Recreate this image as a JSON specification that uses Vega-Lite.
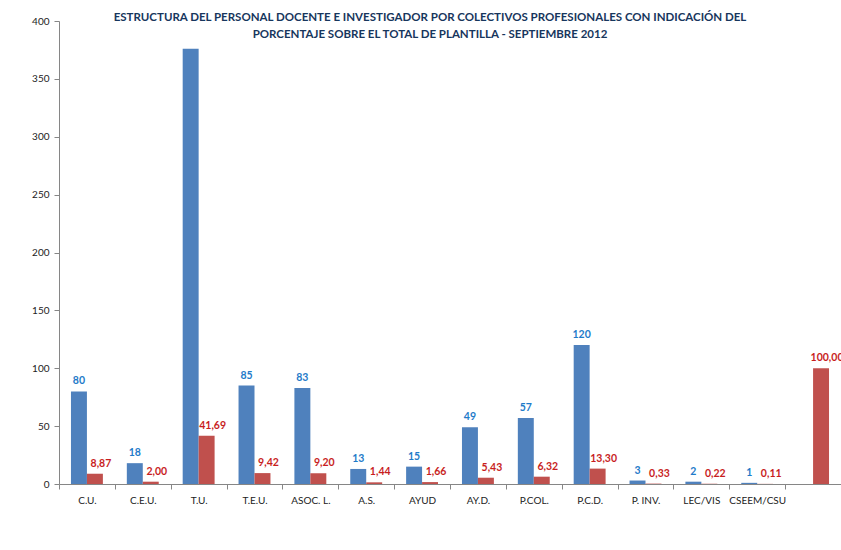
{
  "$schema": "https://vega.github.io/schema/vega-lite/v6.json",
  "width": 782,
  "height": 463,
  "autosize": "none",
  "padding": {"left": 59, "top": 21, "right": 0, "bottom": 66},
  "background": "white",
  "config": {
    "locale": {"number": {"decimal": ",", "thousands": ".", "grouping": [3], "currency": ["", " €"]}},
    "view": {"stroke": null},
    "font": "Lato"
  },
  "title": {
    "text": ["ESTRUCTURA DEL PERSONAL DOCENTE E INVESTIGADOR POR COLECTIVOS PROFESIONALES CON INDICACIÓN DEL", "PORCENTAJE SOBRE EL TOTAL DE PLANTILLA - SEPTIEMBRE 2012"],
    "fontSize": 11.5,
    "fontWeight": "bold",
    "color": "#17365D",
    "font": "Lato",
    "anchor": "middle",
    "offset": -24,
    "dx": -20,
    "lineHeight": 17
  },
  "data": {
    "values": [
      {"colectivo": "C.U.", "serie": "Efectivos", "valor": 80},
      {"colectivo": "C.U.", "serie": "Porcentaje", "valor": 8.87},
      {"colectivo": "C.E.U.", "serie": "Efectivos", "valor": 18},
      {"colectivo": "C.E.U.", "serie": "Porcentaje", "valor": 2.00},
      {"colectivo": "T.U.", "serie": "Efectivos", "valor": 376},
      {"colectivo": "T.U.", "serie": "Porcentaje", "valor": 41.69},
      {"colectivo": "T.E.U.", "serie": "Efectivos", "valor": 85},
      {"colectivo": "T.E.U.", "serie": "Porcentaje", "valor": 9.42},
      {"colectivo": "ASOC. L.", "serie": "Efectivos", "valor": 83},
      {"colectivo": "ASOC. L.", "serie": "Porcentaje", "valor": 9.20},
      {"colectivo": "A.S.", "serie": "Efectivos", "valor": 13},
      {"colectivo": "A.S.", "serie": "Porcentaje", "valor": 1.44},
      {"colectivo": "AYUD", "serie": "Efectivos", "valor": 15},
      {"colectivo": "AYUD", "serie": "Porcentaje", "valor": 1.66},
      {"colectivo": "AY.D.", "serie": "Efectivos", "valor": 49},
      {"colectivo": "AY.D.", "serie": "Porcentaje", "valor": 5.43},
      {"colectivo": "P.COL.", "serie": "Efectivos", "valor": 57},
      {"colectivo": "P.COL.", "serie": "Porcentaje", "valor": 6.32},
      {"colectivo": "P.C.D.", "serie": "Efectivos", "valor": 120},
      {"colectivo": "P.C.D.", "serie": "Porcentaje", "valor": 13.30},
      {"colectivo": "P. INV.", "serie": "Efectivos", "valor": 3},
      {"colectivo": "P. INV.", "serie": "Porcentaje", "valor": 0.33},
      {"colectivo": "LEC/VIS", "serie": "Efectivos", "valor": 2},
      {"colectivo": "LEC/VIS", "serie": "Porcentaje", "valor": 0.22},
      {"colectivo": "CSEEM/CSU", "serie": "Efectivos", "valor": 1},
      {"colectivo": "CSEEM/CSU", "serie": "Porcentaje", "valor": 0.11},
      {"colectivo": "TOTAL", "serie": "Porcentaje", "valor": 100.00}
    ]
  },
  "encoding": {
    "x": {
      "field": "colectivo",
      "type": "nominal",
      "sort": ["C.U.", "C.E.U.", "T.U.", "T.E.U.", "ASOC. L.", "A.S.", "AYUD", "AY.D.", "P.COL.", "P.C.D.", "P. INV.", "LEC/VIS", "CSEEM/CSU", "TOTAL"],
      "scale": {"paddingInner": 0, "paddingOuter": 0},
      "axis": {
        "title": null,
        "tickBand": "extent",
        "domainColor": "#868686",
        "tickColor": "#868686",
        "tickSize": 5,
        "labelAngle": 0,
        "labelFontSize": 10,
        "labelColor": "#222222",
        "labelPadding": 6,
        "labelExpr": "datum.value == 'TOTAL' ? '' : datum.value",
        "grid": false
      }
    },
    "xOffset": {
      "field": "serie",
      "type": "nominal",
      "sort": ["Efectivos", "Porcentaje"],
      "scale": {"domain": ["Efectivos", "Porcentaje"], "paddingInner": 0, "paddingOuter": 0.75}
    },
    "y": {
      "field": "valor",
      "type": "quantitative",
      "scale": {"domain": [0, 400]},
      "axis": {
        "title": null,
        "values": [0, 50, 100, 150, 200, 250, 300, 350, 400],
        "domainColor": "#868686",
        "tickColor": "#868686",
        "tickSize": 5,
        "labelFontSize": 10,
        "labelColor": "#222222",
        "labelPadding": 5,
        "grid": false
      }
    }
  },
  "layer": [
    {
      "mark": {"type": "bar", "clip": true},
      "encoding": {
        "color": {
          "field": "serie",
          "type": "nominal",
          "scale": {"domain": ["Efectivos", "Porcentaje"], "range": ["#4F81BD", "#C0504D"]},
          "legend": null
        }
      }
    },
    {
      "transform": [{"filter": "datum.serie == 'Efectivos' && datum.colectivo != 'T.U.'"}],
      "mark": {"type": "text", "dy": -10, "fontWeight": "bold", "fontSize": 10.5, "color": "#1F7BC9"},
      "encoding": {"text": {"field": "valor", "type": "quantitative", "format": "d"}}
    },
    {
      "transform": [{"filter": "datum.serie == 'Porcentaje'"}],
      "mark": {"type": "text", "dy": -10, "dx": 6, "fontWeight": "bold", "fontSize": 10.5, "color": "#C81E1E"},
      "encoding": {"text": {"field": "valor", "type": "quantitative", "format": ".2f"}}
    }
  ]
}
